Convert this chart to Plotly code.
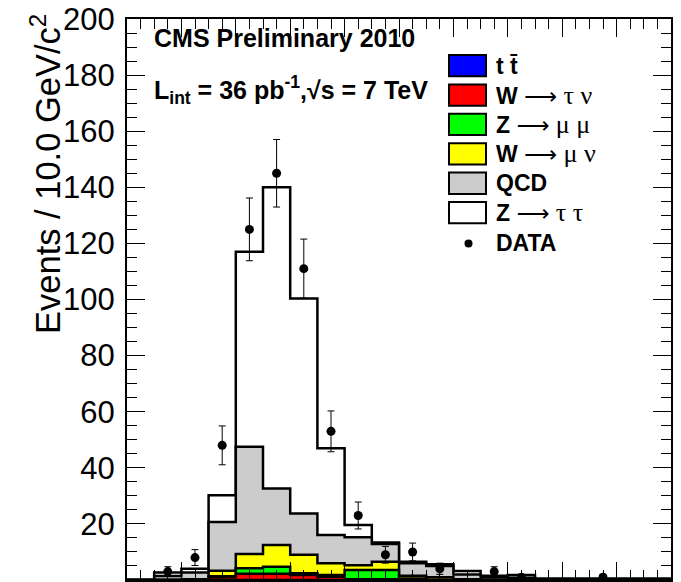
import numpy as np
import plotly.graph_objects as go

# ---------------- data (10 GeV bins, 0..200 GeV) ----------------
bin_edges = list(range(0, 210, 10))
ttbar    = [0, 0, 0, 0, 0, 0, 0, 0, 0, 0, 0, 0, 0, 0, 0, 0, 0, 0, 0, 0]
w_taunu  = [0, 0, 0.2, 1.0, 2.2, 2.2, 1.8, 1.2, 0.3, 0.3, 0, 0, 0, 0, 0, 0, 0, 0, 0, 0]
z_mumu   = [0, 0, 0, 0.3, 2.0, 2.5, 0.6, 0.6, 3.3, 3.3, 0.5, 0, 0, 0, 0, 0, 0, 0, 0, 0]
w_munu   = [0, 0, 0, 2.0, 5.1, 7.8, 6.6, 4.2, 1.7, 2.9, 1.0, 1.0, 0.3, 0, 0, 0, 0, 0, 0, 0]
qcd      = [0, 1.4, 2.5, 17.4, 38.2, 20.1, 14.7, 10.0, 9.9, 6.3, 4.5, 4.0, 1.7, 1.0, 0.8, 0.3, 0.3, 0.3, 0.3, 0.3]
ztautau  = [0, 1.3, 1.3, 9.5, 69.5, 107.4, 76.7, 31.0, 4.4, 0.6, 0.5, 0.6, 1.2, 0.5, 1.0, 0.2, 0.2, 0.2, 0.2, 0.2]
data_counts = [0, 3, 8, 48, 125, 145, 111, 53, 23, 9, 10, 4, 0, 3, 1, 0, 0, 1, 0, 0]

y_tickvals = [20, 40, 60, 80, 100, 120, 140, 160, 180, 200]

# stack order: bottom -> top
stack = [
    ("tt", ttbar, "#0000ff"),
    ("W->tau nu", w_taunu, "#ff0000"),
    ("Z->mu mu", z_mumu, "#00ff00"),
    ("W->mu nu", w_munu, "#ffff00"),
    ("QCD", qcd, "#cccccc"),
    ("Z->tau tau", ztautau, "#ffffff"),
]

fig = go.Figure()
cum = np.zeros(len(bin_edges) - 1)
levels = []
for name, vals, col in stack:
    cum = cum + np.array(vals, dtype=float)
    levels.append((name, cum.copy(), col))

# draw top level first so lower levels overlay it
for name, c, col in reversed(levels):
    fig.add_trace(go.Scatter(
        x=bin_edges, y=list(c) + [c[-1]],
        mode="lines", line=dict(shape="hv", color="black", width=2.5),
        fill="tozeroy", fillcolor=col, name=name, showlegend=False,
        hoverinfo="skip"))

centers = [(bin_edges[i] + bin_edges[i + 1]) / 2 for i in range(len(bin_edges) - 1)]
dx = [centers[i] for i, n in enumerate(data_counts) if n > 0]
dy = [n for n in data_counts if n > 0]
fig.add_trace(go.Scatter(
    x=dx, y=dy, mode="markers",
    marker=dict(color="black", size=9),
    error_y=dict(type="data", array=[np.sqrt(n) for n in dy], color="black",
                 thickness=1, width=3.5),
    showlegend=False))

# ---------------- layout ----------------
W, H = 681, 582
L, R, T, B = 127, 10, 19, 2
pw, ph = W - L - R, H - T - B

def px(x):
    return (x - L) / pw

def py(y):
    return (H - B - y) / ph

font_main = "Liberation Sans, Arial, Helvetica, sans-serif"

axis_common = dict(
    showgrid=False, zeroline=False, showline=True, linecolor="black",
    linewidth=2, mirror="ticks", ticks="inside", ticklen=18, tickwidth=1,
    tickcolor="black",
    minor=dict(ticks="inside", ticklen=10, tickwidth=1, tickcolor="black", dtick=5),
)

fig.update_layout(
    width=W, height=H,
    margin=dict(l=L, r=R, t=T, b=B),
    paper_bgcolor="white", plot_bgcolor="white",
    xaxis=dict(range=[0, 200], dtick=20, showticklabels=False, **axis_common),
    yaxis=dict(range=[0, 200], tickvals=y_tickvals,
               tickfont=dict(family=font_main, size=31, color="black"),
               ticklabelstandoff=4, **axis_common),
    font=dict(family=font_main, color="black"),
)

ann = []
ann.append(dict(text="Events / 10.0 GeV/c<sup>2</sup>", textangle=-90,
                xref="paper", yref="paper", x=px(45), y=py(12),
                xanchor="center", yanchor="top", showarrow=False,
                font=dict(family=font_main, size=34.5, color="black")))
ann.append(dict(text="<b>CMS Preliminary 2010</b>", xref="paper", yref="paper",
                x=px(152), y=py(38), xanchor="left", yanchor="middle",
                showarrow=False, font=dict(family=font_main, size=25)))
ann.append(dict(text="<b>L<sub>int</sub> = 36 pb<sup>-1</sup>,√s = 7 TeV</b>",
                xref="paper", yref="paper",
                x=px(152), y=py(90), xanchor="left", yanchor="middle",
                showarrow=False, font=dict(family=font_main, size=25)))

arrow = "<span style='font-family:DejaVu Sans'>⟶</span>"
def greek(s):
    return "<span style='font-family:Liberation Serif;font-size:26px'>" + s + "</span>"

legend_items = [
    ("<b>t t̄</b>", "#0000ff"),
    ("<b>W</b> " + arrow + " " + greek("τ ν"), "#ff0000"),
    ("<b>Z</b> " + arrow + " " + greek("μ μ"), "#00ff00"),
    ("<b>W</b> " + arrow + " " + greek("μ ν"), "#ffff00"),
    ("<b>QCD</b>", "#cccccc"),
    ("<b>Z</b> " + arrow + " " + greek("τ τ"), "#ffffff"),
]
shapes = []
y0 = 55
step = 29.4
for k, (txt, col) in enumerate(legend_items):
    top = y0 + k * step
    bot = top + 21.3
    shapes.append(dict(type="rect", xref="paper", yref="paper",
                       x0=px(449), x1=px(486), y0=py(bot), y1=py(top),
                       fillcolor=col, line=dict(color="black", width=2)))
    ann.append(dict(text=txt, xref="paper", yref="paper",
                    x=px(494), y=py((top + bot) / 2), xanchor="left",
                    yanchor="middle", showarrow=False,
                    font=dict(family=font_main, size=23)))
# data legend entry
shapes.append(dict(type="circle", xref="paper", yref="paper",
                   x0=px(464.5), x1=px(472.5), y0=py(247.5), y1=py(239.5),
                   fillcolor="black", line=dict(color="black", width=0)))
ann.append(dict(text="<b>DATA</b>", xref="paper", yref="paper",
                x=px(494), y=py(243.5), xanchor="left", yanchor="middle",
                showarrow=False, font=dict(family=font_main, size=23)))

fig.update_layout(annotations=ann, shapes=shapes)
fig.write_html("out.html")
